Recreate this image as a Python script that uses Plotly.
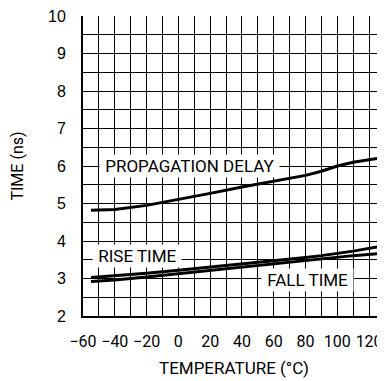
import plotly.graph_objects as go

# temperature points (deg C)
temp = [-55, -40, -20, 0, 20, 40, 50, 60, 70, 80, 90, 100, 110, 125]
prop_delay = [4.82, 4.84, 4.95, 5.1, 5.27, 5.44, 5.52, 5.59, 5.66, 5.75, 5.86, 6.0, 6.1, 6.2]
rise_time = [3.03, 3.07, 3.14, 3.22, 3.3, 3.38, 3.42, 3.47, 3.51, 3.56, 3.61, 3.67, 3.73, 3.84]
fall_time = [2.92, 2.96, 3.04, 3.13, 3.22, 3.31, 3.35, 3.4, 3.44, 3.48, 3.53, 3.58, 3.61, 3.66]

x_ticks = [-60, -40, -20, 0, 20, 40, 60, 80, 100, 120]
y_ticks = [2, 3, 4, 5, 6, 7, 8, 9, 10]

narrow = "Roboto, sans-serif"

fig = go.Figure()
for ys in (prop_delay, rise_time, fall_time):
    fig.add_trace(go.Scatter(x=temp, y=ys, mode="lines",
                             line=dict(color="black", width=3),
                             showlegend=False, hoverinfo="skip"))

labels = [(" PROPAGATION DELAY ", 7, 6.0), (" RISE TIME ", -26, 3.6), (" FALL TIME ", 81, 2.96)]
for txt, xx, yy in labels:
    fig.add_annotation(x=xx, y=yy, text=txt, showarrow=False, bgcolor="white",
                       borderpad=1, font=dict(family=narrow, size=17, color="black"))

fig.update_xaxes(range=[-60, 130], tickvals=x_ticks, ticktext=[str(v).replace("-", "\u2212") for v in x_ticks],
                 tickangle=0, ticklabeloverflow="allow",
                 showgrid=True, gridcolor="black", gridwidth=1,
                 minor=dict(dtick=10, tick0=0, showgrid=True, gridcolor="black", gridwidth=1),
                 showline=True, linecolor="black", linewidth=2, zeroline=False,
                 ticks="", ticklabelstandoff=10,
                 tickfont=dict(family=narrow, size=16, color="black"),
                 title=dict(text="TEMPERATURE (°C)", standoff=12,
                            font=dict(family=narrow, size=17, color="black")))
fig.update_yaxes(range=[2, 10], tickvals=y_ticks, ticklabeloverflow="allow",
                 showgrid=True, gridcolor="black", gridwidth=1,
                 minor=dict(dtick=0.5, tick0=0, showgrid=True, gridcolor="black", gridwidth=1),
                 showline=True, linecolor="black", linewidth=2, zeroline=False,
                 ticks="", ticklabelstandoff=12,
                 tickfont=dict(family="Liberation Sans, Arial, sans-serif", size=16, color="black"),
                 title=dict(text="TIME (ns)", standoff=20,
                            font=dict(family=narrow, size=16, color="black")))

# page body adds an 8px offset, so the figure is sized to the remaining window
fig.update_layout(width=377, height=373, margin=dict(l=75, r=0, t=5, b=65),
                  plot_bgcolor="white", paper_bgcolor="white")

fig.write_html("out.html")
